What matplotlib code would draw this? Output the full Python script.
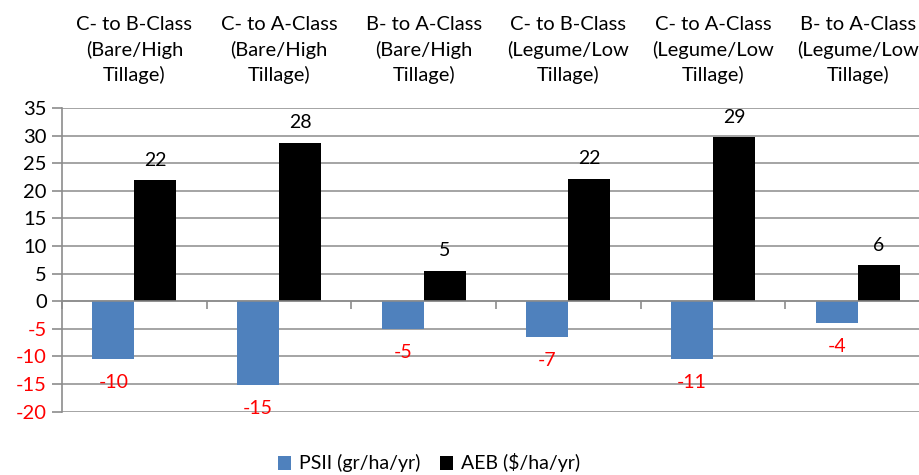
import matplotlib
matplotlib.use("Agg")
import matplotlib.pyplot as plt
import numpy as np

categories = [
    "C- to B-Class\n(Bare/High\nTillage)",
    "C- to A-Class\n(Bare/High\nTillage)",
    "B- to A-Class\n(Bare/High\nTillage)",
    "C- to B-Class\n(Legume/Low\nTillage)",
    "C- to A-Class\n(Legume/Low\nTillage)",
    "B- to A-Class\n(Legume/Low\nTillage)",
]
psii = [-10.5, -15.2, -4.95, -6.4, -10.5, -4.0]
aeb = [21.9, 28.75, 5.56, 22.2, 29.7, 6.5]
psii_labels = ["-10", "-15", "-5", "-7", "-11", "-4"]
aeb_labels = ["22", "28", "5", "22", "29", "6"]
yticks = [-20, -15, -10, -5, 0, 5, 10, 15, 20, 25, 30, 35]

plt.rcParams['font.family'] = ['Lato', 'DejaVu Sans']

fig = plt.figure(figsize=(9.2, 4.75), dpi=100)
ax = fig.add_axes([62/920, 1-411.7/475, 868/920, (411.7-108)/475])

x = np.arange(len(categories))
w = 0.29
grid_c = "#8c8c8c"
ax.bar(x - w/2, psii, width=w, color="#4F81BD", label="PSII (gr/ha/yr)", zorder=3)
ax.bar(x + w/2, aeb, width=w, color="#000000", label="AEB ($/ha/yr)", zorder=3)

for xi, v, lab in zip(x, psii, psii_labels):
    ax.annotate(lab, (xi - w/2, v), xytext=(0, -17), textcoords="offset points",
                ha="center", va="center", color="#FF0000", fontsize=14)
for xi, v, lab in zip(x, aeb, aeb_labels):
    ax.annotate(lab, (xi + w/2, v), xytext=(0, 14.5), textcoords="offset points",
                ha="center", va="center", color="#000000", fontsize=14)

ax.set_xlim(-0.5, len(categories) - 0.5)
ax.set_ylim(-20, 35)
ax.set_yticks(yticks)
ax.set_yticklabels([str(t) for t in yticks], fontsize=14.5)
for lab, t in zip(ax.get_yticklabels(), yticks):
    lab.set_color("#FF0000" if t < 0 else "#000000")
ax.tick_params(axis="y", length=7, color=grid_c, width=1.2, pad=4)
ax.yaxis.grid(True, color=grid_c, linewidth=1.1, zorder=0)

for s in ["top", "right"]:
    ax.spines[s].set_visible(False)
ax.spines["left"].set_color(grid_c)
ax.spines["left"].set_linewidth(1.2)
ax.spines["bottom"].set_position(("data", 0))
ax.spines["bottom"].set_color(grid_c)
ax.spines["bottom"].set_linewidth(1.1)
ax.spines["bottom"].set_zorder(4)

ax.set_xticks(np.arange(len(categories) + 1) - 0.5)
ax.set_xticklabels([])
ax.tick_params(axis="x", length=6, color=grid_c, width=1.2, direction="out")

sec = ax.secondary_xaxis("top")
sec.set_xticks(x)
sec.set_xticklabels(categories, fontsize=14.5, linespacing=1.5)
sec.tick_params(length=0, pad=17)
sec.spines["top"].set_visible(False)

fig.legend(loc="center", bbox_to_anchor=(429/920, 1-463/475), ncol=2, frameon=False,
           fontsize=14, handlelength=0.7, handleheight=0.7, handletextpad=0.4,
           columnspacing=1.0)

fig.savefig("out.png", dpi=100)
